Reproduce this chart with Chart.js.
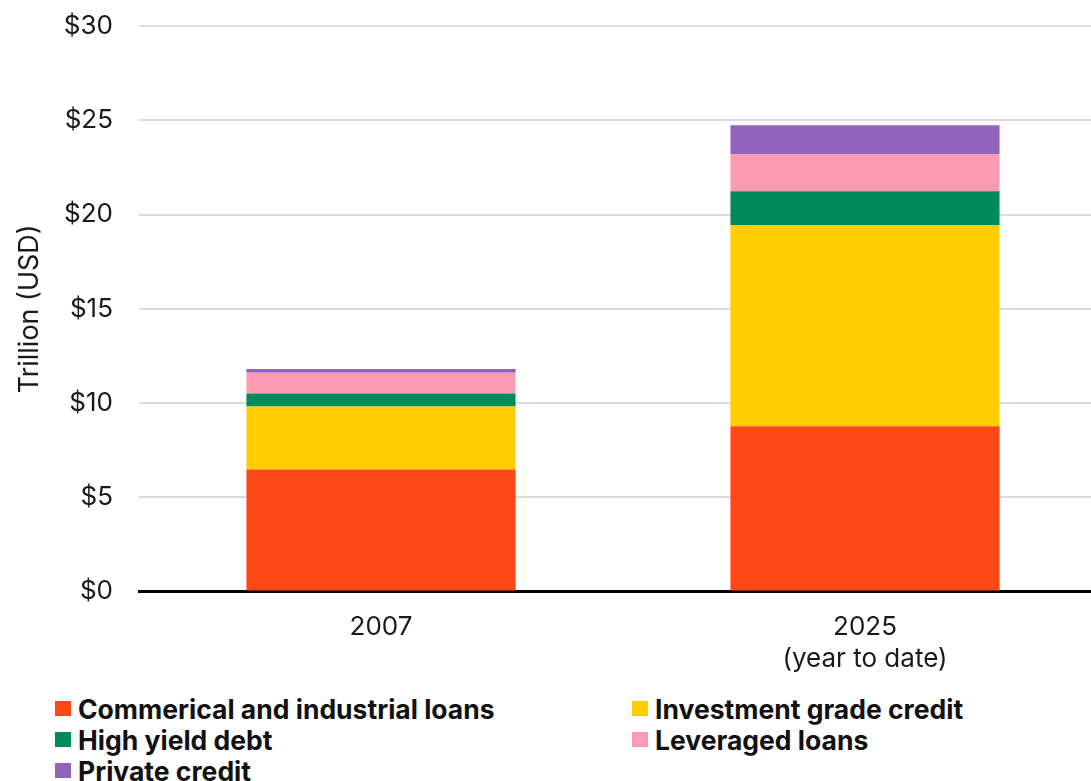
<!DOCTYPE html>
<html>
<head>
<meta charset="utf-8">
<script src="https://cdn.jsdelivr.net/npm/chart.js@4/dist/chart.umd.min.js"></script>
<style>
  html, body { margin: 0; padding: 0; background: #fff; overflow: hidden; }
  body { width: 1091px; height: 781px; position: relative; font-family: Inter, "Open Sans", sans-serif; }
  #wrap { position: absolute; left: 0; top: 0; width: 1107px; height: 687px; }
  #legend { position: absolute; left: 55px; top: 693px; display: grid; grid-template-columns: 577px 420px; }
  .item { display: flex; align-items: center; font-weight: 700; font-size: 26.5px; color: #111; height: 31px; white-space: nowrap; }
  .box { width: 16px; height: 15px; margin-right: 7px; flex: none; }
</style>
</head>
<body>
<div id="wrap"><canvas id="c"></canvas></div>
<div id="legend"></div>
<script>
// Categories and stacked series (trillion USD)
const categories = ["2007", ["2025", "(year to date)"]];
const seriesNames = [
  "Commerical and industrial loans",
  "Investment grade credit",
  "High yield debt",
  "Leveraged loans",
  "Private credit"
];
const commercialIndustrial = [6.47, 8.77];
const investmentGrade = [3.35, 10.68];
const highYield = [0.69, 1.79];
const leveragedLoans = [1.10, 1.94];
const privateCredit = [0.19, 1.56];
const yTicks = [0, 5, 10, 15, 20, 25, 30];

const colors = ["#ff4815", "#ffcd00", "#00895b", "#fd9bb3", "#9163bb"];
const values = [commercialIndustrial, investmentGrade, highYield, leveragedLoans, privateCredit];

const datasets = seriesNames.map((name, i) => ({
  label: name,
  data: values[i],
  backgroundColor: colors[i],
  borderWidth: 0,
  categoryPercentage: 1,
  barPercentage: 0.556
}));

new Chart(document.getElementById("c"), {
  type: "bar",
  data: { labels: categories, datasets },
  options: {
    responsive: true,
    maintainAspectRatio: false,
    animation: false,
    layout: { padding: { top: 0, right: 0, left: 0, bottom: 0 } },
    plugins: { legend: { display: false }, tooltip: { enabled: false } },
    scales: {
      x: {
        stacked: true,
        grid: { display: false },
        border: { color: "#000", width: 3 },
        ticks: {
          color: "#1a1a1a",
          font: { family: "Inter", size: 26, lineHeight: 1.22 },
          padding: 12
        }
      },
      y: {
        stacked: true,
        min: 0,
        max: 30,
        afterBuildTicks: (s) => { s.ticks = yTicks.map(v => ({ value: v })); },
        afterFit: (s) => { s.width = 139; s.paddingTop = 26; },
        grid: { color: "#dcdbe3", lineWidth: 2, drawTicks: false },
        border: { display: false },
        ticks: {
          color: "#1a1a1a",
          font: { family: "Inter", size: 26 },
          padding: 26,
          callback: (v) => "$" + v
        },
        title: {
          display: true,
          text: "Trillion (USD)",
          color: "#1a1a1a",
          font: { family: "Inter", size: 27 },
          padding: { top: 14, bottom: 0 }
        }
      }
    }
  }
});

// Legend in two columns, in series order
const legend = document.getElementById("legend");
seriesNames.forEach((name, i) => {
  const item = document.createElement("div");
  item.className = "item";
  const box = document.createElement("span");
  box.className = "box";
  box.style.background = colors[i];
  const text = document.createElement("span");
  text.textContent = name;
  item.appendChild(box);
  item.appendChild(text);
  legend.appendChild(item);
});
</script>
</body>
</html>
